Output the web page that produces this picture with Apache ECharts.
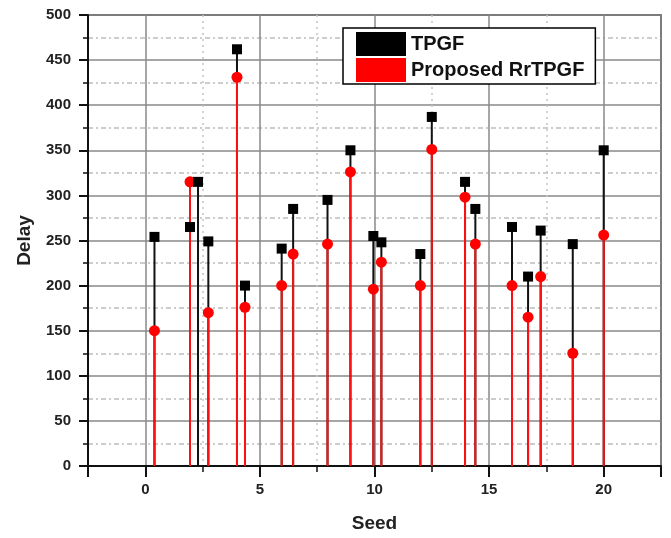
<!DOCTYPE html>
<html>
<head>
<meta charset="utf-8">
<script src="https://cdn.jsdelivr.net/npm/echarts@6/dist/echarts.min.js"></script>
<style>
  html, body { margin: 0; padding: 0; background: #fff; }
  #chart { width: 671px; height: 538px; }
</style>
</head>
<body>
<div id="chart"></div>
<script>
// Seed positions and delays for each method
const tpgfSeed  = [0.4, 1.95, 2.3, 2.75, 4.0, 4.35, 5.95, 6.45, 7.95, 8.95, 9.95, 10.3, 12.0, 12.5, 13.95, 14.4, 16.0, 16.7, 17.25, 18.65, 20.0];
const tpgfDelay = [254, 265, 315, 249, 462, 200, 241, 285, 295, 350, 255, 248, 235, 387, 315, 285, 265, 210, 261, 246, 350];

const rrSeed  = [0.4, 1.95, 2.75, 4.0, 4.35, 5.95, 6.45, 7.95, 8.95, 9.95, 10.3, 12.0, 12.5, 13.95, 14.4, 16.0, 16.7, 17.25, 18.65, 20.0];
const rrDelay = [150, 315, 170, 431, 176, 200, 235, 246, 326, 196, 226, 200, 351, 298, 246, 200, 165, 210, 125, 256];

const yTicks = { min: 0, max: 500, step: 50 };
const xRange = { min: -2.5, max: 22.5 };

const pairs = (xs, ys) => xs.map((x, i) => [x, ys[i]]);
const tpgfData = pairs(tpgfSeed, tpgfDelay);
const rrData = pairs(rrSeed, rrDelay);

// vertical drop line from the baseline up to each point
function stem(color, width) {
  return function (params, api) {
    const top = api.coord([api.value(0), api.value(1)]);
    const base = api.coord([api.value(0), 0]);
    return {
      type: 'line',
      shape: { x1: base[0], y1: base[1], x2: top[0], y2: top[1] },
      style: { stroke: color, lineWidth: width }
    };
  };
}

const font = 'Liberation Sans, Arial, sans-serif';
const chart = echarts.init(document.getElementById('chart'), null, { renderer: 'canvas' });

chart.setOption({
  animation: false,
  backgroundColor: '#fff',
  grid: {
    left: 88, top: 15, right: 10, bottom: 71,
    show: true, borderColor: '#222', borderWidth: 1.5, backgroundColor: 'transparent'
  },
  legend: {
    data: ['TPGF', 'Proposed RrTPGF'],
    orient: 'vertical',
    left: 343, top: 28,
    padding: [4, 11, 2, 13],
    itemGap: 2,
    itemWidth: 50, itemHeight: 24,
    icon: 'rect',
    backgroundColor: '#fff',
    borderColor: '#000', borderWidth: 1.5,
    textStyle: { fontFamily: font, fontWeight: 'bold', fontSize: 20, color: '#111' }
  },
  xAxis: {
    type: 'value',
    min: xRange.min, max: xRange.max,
    splitNumber: 5,
    name: 'Seed',
    nameLocation: 'middle',
    nameGap: 48,
    nameTextStyle: { fontFamily: font, fontWeight: 'bold', fontSize: 19, color: '#222' },
    axisLine: { onZero: false, lineStyle: { color: '#111', width: 2 } },
    axisTick: { inside: false, length: 11, lineStyle: { color: '#111', width: 2 } },
    minorTick: { show: true, splitNumber: 2, length: 6, lineStyle: { color: '#111', width: 1.5 } },
    axisLabel: {
      margin: 16, showMinLabel: false, showMaxLabel: false,
      fontFamily: font, fontWeight: 'bold', fontSize: 15, color: '#222'
    },
    splitLine: { show: true, lineStyle: { color: '#888', width: 1.5 } },
    minorSplitLine: { show: true, lineStyle: { color: '#c4c4c4', width: 1.5, type: [2, 4] } }
  },
  yAxis: {
    type: 'value',
    min: yTicks.min, max: yTicks.max, interval: yTicks.step,
    name: 'Delay',
    nameLocation: 'middle',
    nameGap: 54,
    nameTextStyle: { fontFamily: font, fontWeight: 'bold', fontSize: 19, color: '#222' },
    axisLine: { show: true, onZero: false, lineStyle: { color: '#111', width: 2 } },
    axisTick: { show: true, inside: false, length: 9, lineStyle: { color: '#111', width: 2 } },
    minorTick: { show: true, splitNumber: 2, length: 5, lineStyle: { color: '#111', width: 1.5 } },
    axisLabel: { margin: 17, fontFamily: font, fontWeight: 'bold', fontSize: 15, color: '#222' },
    splitLine: { show: true, lineStyle: { color: '#888', width: 1.5 } },
    minorSplitLine: { show: true, lineStyle: { color: '#bdbdbd', width: 1.5, type: [5, 3, 2, 3] } }
  },
  series: [
    {
      name: 'tpgf-stems', type: 'custom', data: tpgfData,
      encode: { x: 0, y: 1 }, renderItem: stem('#111', 2), z: 2, silent: true
    },
    {
      name: 'rr-stems', type: 'custom', data: rrData,
      encode: { x: 0, y: 1 }, renderItem: stem('#ff1010', 2), z: 3, silent: true
    },
    {
      name: 'Proposed RrTPGF', type: 'scatter', data: rrData,
      symbol: 'circle', symbolSize: 11,
      itemStyle: { color: '#ff0000', opacity: 1 }, z: 4
    },
    {
      name: 'TPGF', type: 'scatter', data: tpgfData,
      symbol: 'rect', symbolSize: 10,
      itemStyle: { color: '#000', opacity: 1 }, z: 5
    }
  ]
});
</script>
</body>
</html>
